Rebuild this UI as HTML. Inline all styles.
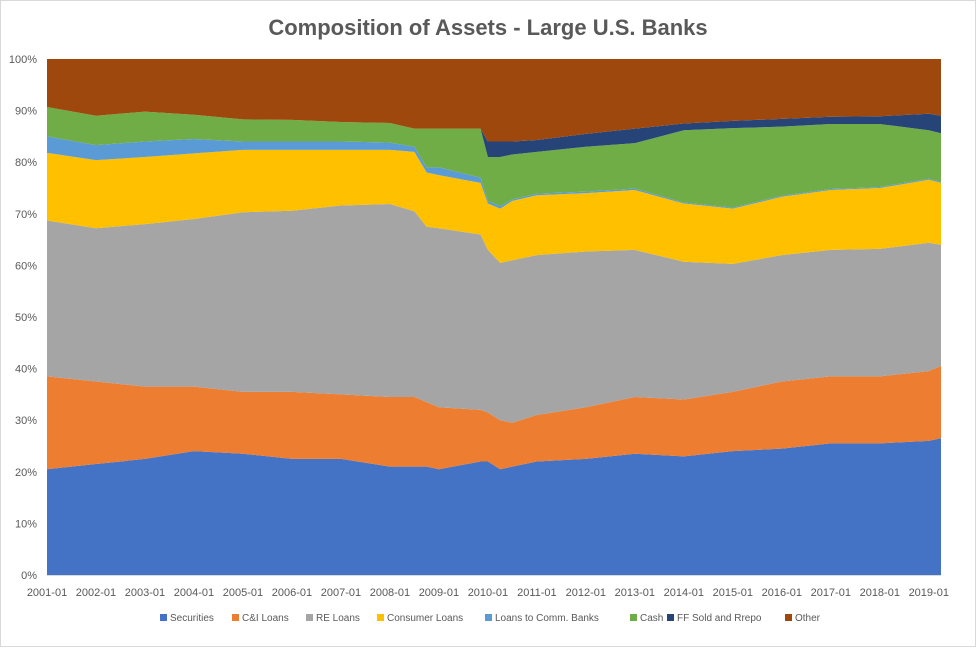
<!DOCTYPE html>
<html><head><meta charset="utf-8"><style>
body{margin:0;background:#fff;}
#wrap{position:relative;width:976px;height:651px;overflow:hidden;font-family:"Liberation Sans",Arial,sans-serif;}
#frame{position:absolute;left:0;top:0;width:974px;height:645px;border:1px solid #d9d9d9;}
svg text{font-family:"Liberation Sans",Arial,sans-serif;fill:#595959;}
</style></head><body>
<div id="wrap">
<div id="frame"></div>
<svg id="chart" width="976" height="651">
<text x="488" y="35" text-anchor="middle" font-size="22" font-weight="bold">Composition of Assets - Large U.S. Banks</text>
</svg>
</div>
<script>
const dates = [2001,2002,2003,2004,2005,2006,2007,2008,2008.5,2008.75,2009,2009.85,2010,2010.25,2010.5,2011,2012,2013,2014,2015,2016,2017,2018,2019,2019.25];
const securities = [20.5,21.5,22.5,24,23.5,22.5,22.5,21,21,21,20.5,22,22,20.5,21,22,22.5,23.5,23,24,24.5,25.5,25.5,26,26.5];
const ciLoans = [18,16,14,12.5,12,13,12.5,13.5,13.5,12.5,12,10,9.5,9.5,8.5,9,10,11,11,11.5,13,13,13,13.5,14];
const reLoans = [30.2,29.7,31.5,32.5,34.8,35.1,36.6,37.4,36,34,34.7,34,31.5,30.5,31.5,31,30.2,28.5,26.7,24.8,24.5,24.5,24.7,24.9,23.5];
const consumerLoans = [13.1,13.2,13,12.7,12.1,11.8,10.8,10.5,11.5,10.5,10.3,10,9,10.5,11.5,11.6,11.3,11.6,11.3,10.7,11.3,11.6,11.8,12.2,12];
const bankLoans = [3.2,2.9,3,2.8,1.6,1.6,1.6,1.4,1,1,1.5,1,0.5,0.5,0.3,0.3,0.3,0.3,0.2,0.2,0.2,0.2,0.2,0.2,0.2];
const cash = [5.7,5.7,5.8,4.7,4.3,4.2,3.8,3.8,3.5,7.5,7.5,9.5,8.5,9.5,8.7,8.1,8.7,8.8,14,15.4,13.4,12.6,12.2,9.4,9.4];
const ffRepo = [0,0,0,0,0,0,0,0,0,0,0,0,3,3,2.5,2.3,2.5,2.8,1.3,1.4,1.5,1.4,1.5,3.2,3.4];
const seriesNames = ["Securities","C&I Loans","RE Loans","Consumer Loans","Loans to Comm. Banks","Cash","FF Sold and Rrepo","Other"];
const yTicks = [0,10,20,30,40,50,60,70,80,90,100];
const xTickYears = [2001,2002,2003,2004,2005,2006,2007,2008,2009,2010,2011,2012,2013,2014,2015,2016,2017,2018,2019];

const colors = ["#4472c4","#ed7d31","#a5a5a5","#ffc000","#5b9bd5","#70ad47","#264478","#9e480e"];
const NS = "http://www.w3.org/2000/svg";
const svg = document.getElementById('chart');
const X0=47, X1=941, Y0=575, Y1=59;
const xMin=2001, xMax=2019.25;
const xs = d => X0 + (d-xMin)/(xMax-xMin)*(X1-X0);
const ys = v => Y0 - v/100*(Y0-Y1);
function mk(tag, attrs){const e=document.createElementNS(NS,tag);for(const k in attrs)e.setAttribute(k,attrs[k]);svg.appendChild(e);return e;}

const other = dates.map((d,i)=>Math.max(0,100-(securities[i]+ciLoans[i]+reLoans[i]+consumerLoans[i]+bankLoans[i]+cash[i]+ffRepo[i])));
const series = [securities,ciLoans,reLoans,consumerLoans,bankLoans,cash,ffRepo,other];
const totals = dates.map((d,i)=>series.reduce((s,a)=>s+a[i],0));
let base = dates.map(()=>0);
const slug = ["securities","ci-loans","re-loans","consumer-loans","bank-loans","cash","ff-repo","other"];
series.forEach((arr,si)=>{
  const top = base.map((b,i)=>b+arr[i]/totals[i]*100);
  let d = "M"+dates.map((t,i)=>xs(t).toFixed(2)+","+ys(top[i]).toFixed(2)).join(" L");
  for(let i=dates.length-1;i>=0;i--) d += " L"+xs(dates[i]).toFixed(2)+","+ys(base[i]).toFixed(2);
  d += "Z";
  const p = mk('path',{d:d,fill:colors[si]});
  
  
  base = top;
});
const ax = mk('line',{x1:X0,x2:X1,y1:Y0+0.5,y2:Y0+0.5,stroke:'#d9d9d9','stroke-width':1});


yTicks.forEach(v=>{
  const t = mk('text',{x:37,y:ys(v)+4,'text-anchor':'end','font-size':11});
  t.textContent = v+'%';
  
  
});
xTickYears.forEach(yr=>{
  const t = mk('text',{x:xs(yr),y:596,'text-anchor':'middle','font-size':11});
  t.textContent = yr+'-01';
  
  
});
const legendX = [160,232,306,377,485,630,667,785];
seriesNames.forEach((n,i)=>{
  const r = mk('rect',{x:legendX[i],y:614,width:7,height:7,fill:colors[i]});
  
  
  const t = mk('text',{x:legendX[i]+10,y:621,'font-size':10});
  t.textContent = n;
  
  
});
</script>
</body></html>
